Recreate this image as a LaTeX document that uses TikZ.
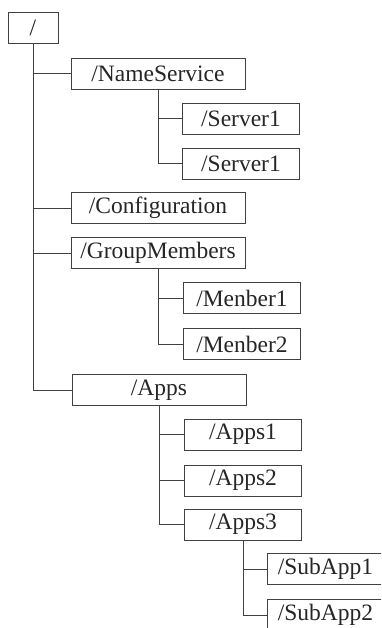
\documentclass[tikz,border=0pt]{standalone}
\usepackage{fontspec}
\setmainfont{Liberation Serif}

\begin{document}
\begin{tikzpicture}[x=1pt,y=-1pt,
	dirbox/.style={draw=black!75,line width=0.9pt,fill=white,inner sep=0pt,minimum height=31pt,
		font=\fontsize{23.5}{23.5}\selectfont,text=black!85},
	rootbox/.style={dirbox,minimum width=50pt},
	topbox/.style={dirbox,minimum width=174pt},
	subbox/.style={dirbox,minimum width=117pt},
	branch/.style={draw=black!75,line width=0.9pt}]
	\useasboundingbox (0,0) rectangle (381,628);
	\clip (0,0) rectangle (381,628);
	% directories
	\node[rootbox] (root) at (33,28) {/};
	\node[topbox] (names) at (158,73.5) {/NameService};
	\node[subbox] (serva) at (241,118.5) {/Server1};
	\node[subbox] (servb) at (241,163.5) {/Server1};
	\node[topbox] (config) at (158,208) {/Configuration};
	\node[topbox] (group) at (158,253) {/GroupMembers};
	\node[subbox] (memba) at (242,298) {/Menber1};
	\node[subbox] (membb) at (242,344) {/Menber2};
	\node[topbox] (apps) at (159,390) {/Apps};
	\node[subbox] (appsa) at (243,434.5) {/Apps1};
	\node[subbox] (appsb) at (243,480.5) {/Apps2};
	\node[subbox] (appsc) at (243,524.5) {/Apps3};
	\node[subbox] (suba) at (325.5,569) {/SubApp1};
	\node[subbox] (subb) at (325.5,615) {/SubApp2};
	% tree lines
	\foreach \kid in {names,config,group,apps}
		\draw[branch] (root.south) |- (\kid.west);
	\foreach \kid in {serva,servb}
		\draw[branch] (names.south) |- (\kid.west);
	\foreach \kid in {memba,membb}
		\draw[branch] (group.south) |- (\kid.west);
	\foreach \kid in {appsa,appsb,appsc}
		\draw[branch] (apps.south) |- (\kid.west);
	\foreach \kid in {suba,subb}
		\draw[branch] (appsc.south) |- (\kid.west);
\end{tikzpicture}
\end{document}
